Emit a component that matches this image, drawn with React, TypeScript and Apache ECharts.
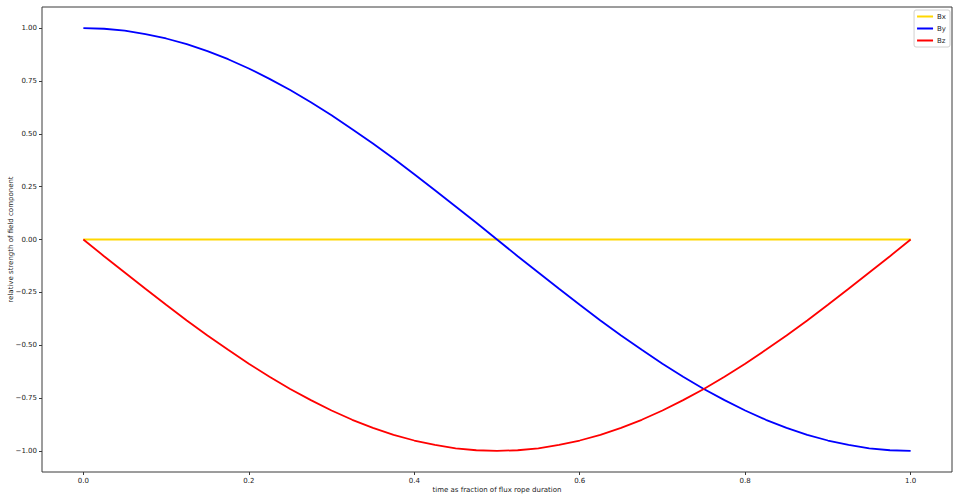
import React, { useEffect, useRef } from "react";
import * as echarts from "echarts";

const times = [
  0, 0.025, 0.05, 0.075, 0.1, 0.125, 0.15, 0.175, 0.2, 0.225, 0.25, 0.275, 0.3, 0.325, 0.35, 0.375, 0.4,
  0.425, 0.45, 0.475, 0.5, 0.525, 0.55, 0.575, 0.6, 0.625, 0.65, 0.675, 0.7, 0.725, 0.75, 0.775, 0.8,
  0.825, 0.85, 0.875, 0.9, 0.925, 0.95, 0.975, 1,
];

const bx = [
  0, 0, 0, 0, 0, 0, 0, 0, 0, 0, 0, 0, 0, 0, 0, 0, 0, 0, 0, 0, 0, 0, 0, 0, 0, 0, 0, 0, 0, 0, 0, 0, 0, 0, 0,
  0, 0, 0, 0, 0, 0,
];

const by = [
  1.0, 0.997, 0.988, 0.972, 0.951, 0.924, 0.891, 0.853, 0.809, 0.76, 0.707, 0.649, 0.588, 0.522, 0.454,
  0.383, 0.309, 0.233, 0.156, 0.079, 0.0, -0.079, -0.156, -0.233, -0.309, -0.383, -0.454, -0.522, -0.588,
  -0.649, -0.707, -0.76, -0.809, -0.853, -0.891, -0.924, -0.951, -0.972, -0.988, -0.997, -1.0,
];

const bz = [
  0.0, -0.079, -0.156, -0.233, -0.309, -0.383, -0.454, -0.522, -0.588, -0.649, -0.707, -0.76, -0.809,
  -0.853, -0.891, -0.924, -0.951, -0.972, -0.988, -0.997, -1.0, -0.997, -0.988, -0.972, -0.951, -0.924,
  -0.891, -0.853, -0.809, -0.76, -0.707, -0.649, -0.588, -0.522, -0.454, -0.383, -0.309, -0.233, -0.156,
  -0.079, 0.0,
];

const xTicks = [0, 0.2, 0.4, 0.6, 0.8, 1.0];
const yTicks = [-1, -0.75, -0.5, -0.25, 0, 0.25, 0.5, 0.75, 1];

const seriesNames = ["Bx", "By", "Bz"];
const seriesColors = ["#FFD700", "#0000FF", "#FF0000"];

const FONT = "DejaVu Sans";

const fmt = (v: number, d: number) => {
  const s = Math.abs(v).toFixed(d);
  return v < -1e-9 ? "\u2212" + s : s;
};

export default function App() {
  const ref = useRef<HTMLDivElement>(null);
  useEffect(() => {
    if (!ref.current) return;
    const chart = echarts.init(ref.current, undefined, { renderer: "svg" });
    const datasets = [bx, by, bz];
    chart.setOption({
      animation: false,
      backgroundColor: "#ffffff",
      grid: {
        left: 42,
        right: 8,
        top: 7,
        bottom: 30,
        containLabel: false,
        outerBoundsMode: "none",
        show: true,
        borderColor: "#3a3a3a",
        borderWidth: 1,
        backgroundColor: "transparent",
      },
      legend: {
        orient: "vertical",
        right: 10,
        top: 10,
        data: seriesNames,
        icon: "rect",
        itemWidth: 16,
        itemHeight: 2,
        itemGap: 5,
        backgroundColor: "#ffffff",
        borderColor: "#d0d0d0",
        borderWidth: 1,
        borderRadius: 2,
        padding: [3, 4, 3, 3],
        textStyle: { fontFamily: FONT, fontSize: 7, color: "#222", padding: [0, 0, 0, -1] },
      },
      xAxis: {
        type: "value",
        min: -0.05,
        max: 1.05,
        name: "time as fraction of flux rope duration",
        nameLocation: "middle",
        nameGap: 14,
        nameMoveOverlap: false,
        nameTextStyle: { fontFamily: FONT, fontSize: 7, color: "#222" },
        axisLine: { show: false, onZero: false },
        axisTick: {
          show: true,
          length: 3,
          customValues: xTicks,
          lineStyle: { color: "#3a3a3a", width: 1 },
        },
        axisLabel: {
          customValues: xTicks,
          margin: 5,
          fontFamily: FONT,
          fontSize: 7,
          color: "#222",
          formatter: (v: number) => fmt(v, 1),
        },
        splitLine: { show: false },
      },
      yAxis: {
        type: "value",
        min: -1.1,
        max: 1.1,
        name: "relative strength of field component",
        nameLocation: "middle",
        nameGap: 28,
        nameMoveOverlap: false,
        nameTextStyle: { fontFamily: FONT, fontSize: 7, color: "#222" },
        axisLine: { show: false, onZero: false },
        axisTick: {
          show: true,
          length: 3,
          customValues: yTicks,
          lineStyle: { color: "#3a3a3a", width: 1 },
        },
        axisLabel: {
          customValues: yTicks,
          margin: 5,
          fontFamily: FONT,
          fontSize: 7,
          color: "#222",
          formatter: (v: number) => fmt(v, 2),
        },
        splitLine: { show: false },
      },
      series: seriesNames.map((name, i) => ({
        name,
        type: "line",
        showSymbol: false,
        symbol: "none",
        color: seriesColors[i],
        lineStyle: { color: seriesColors[i], width: 1.8 },
        data: times.map((t, j) => [t, datasets[i][j]]),
      })),
    });
    return () => chart.dispose();
  }, []);
  return (
    <div
      ref={ref}
      style={{ position: "fixed", left: 0, top: 0, width: 960, height: 502, background: "#fff" }}
    />
  );
}
